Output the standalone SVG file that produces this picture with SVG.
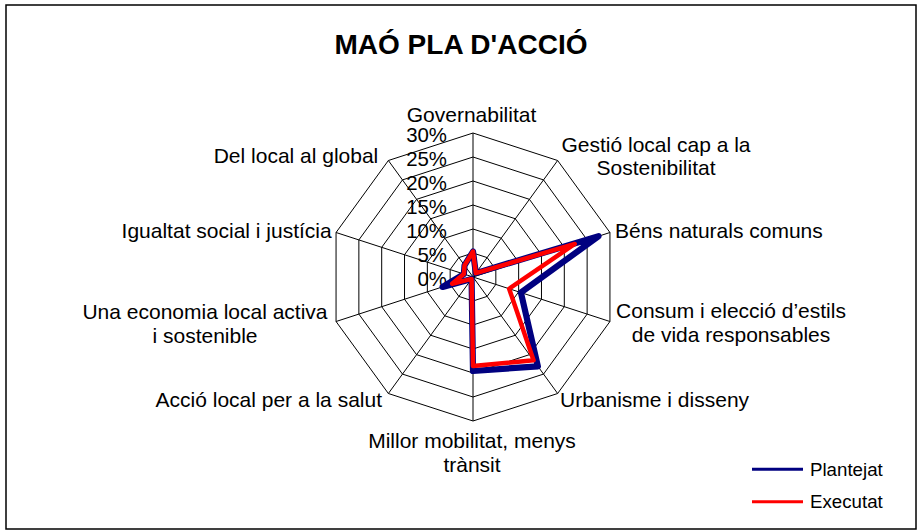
<svg xmlns="http://www.w3.org/2000/svg" width="917" height="531" viewBox="0 0 917 531">
<style>
.lbl{font-family:"Liberation Sans",Arial,sans-serif;font-size:21px;fill:#000}
.pct{font-family:"Liberation Sans",Arial,sans-serif;font-size:20.4px;fill:#000;text-anchor:end}
.leg{font-family:"Liberation Sans",Arial,sans-serif;font-size:18.7px;fill:#000}
.ring{fill:none;stroke:#000;stroke-width:1}
.spoke{stroke:#000;stroke-width:1}
.plan{fill:none;stroke:#000080;stroke-width:6.2;stroke-linejoin:round;stroke-linecap:round}
.exec{fill:none;stroke:#ff0000;stroke-width:4.5;stroke-linejoin:round;stroke-linecap:round}
</style>
<rect x="0" y="0" width="917" height="531" fill="#fff"/>
<rect id="frame" x="6" y="5" width="910" height="524" fill="#fff" stroke="#000" stroke-width="1.5"/>
<text id="title" x="461" y="53.5" text-anchor="middle" style="font-family:'Liberation Sans',Arial,sans-serif;font-size:28px;font-weight:bold">MAÓ PLA D'ACCIÓ</text>
<g id="grid">
<polygon class="ring" points="473,253 487.11,257.58 495.83,269.58 495.83,284.42 487.11,296.42 473,301 458.89,296.42 450.17,284.42 450.17,269.58 458.89,257.58"/>
<polygon class="ring" points="473,229 501.21,238.17 518.65,262.17 518.65,291.83 501.21,315.83 473,325 444.79,315.83 427.35,291.83 427.35,262.17 444.79,238.17"/>
<polygon class="ring" points="473,205 515.32,218.75 541.48,254.75 541.48,299.25 515.32,335.25 473,349 430.68,335.25 404.52,299.25 404.52,254.75 430.68,218.75"/>
<polygon class="ring" points="473,181 529.43,199.33 564.30,247.33 564.30,306.67 529.43,354.67 473,373 416.57,354.67 381.70,306.67 381.70,247.33 416.57,199.33"/>
<polygon class="ring" points="473,157 543.53,179.92 587.13,239.92 587.13,314.08 543.53,374.08 473,397 402.47,374.08 358.87,314.08 358.87,239.92 402.47,179.92"/>
<polygon class="ring" points="473,133 557.64,160.50 609.95,232.50 609.95,321.50 557.64,393.50 473,421 388.36,393.50 336.05,321.50 336.05,232.50 388.36,160.50"/>
<line class="spoke" x1="473" y1="277" x2="473" y2="133"/>
<line class="spoke" x1="473" y1="277" x2="557.64" y2="160.50"/>
<line class="spoke" x1="473" y1="277" x2="609.95" y2="232.50"/>
<line class="spoke" x1="473" y1="277" x2="609.95" y2="321.50"/>
<line class="spoke" x1="473" y1="277" x2="557.64" y2="393.50"/>
<line class="spoke" x1="473" y1="277" x2="473" y2="421"/>
<line class="spoke" x1="473" y1="277" x2="388.36" y2="393.50"/>
<line class="spoke" x1="473" y1="277" x2="336.05" y2="321.50"/>
<line class="spoke" x1="473" y1="277" x2="336.05" y2="232.50"/>
<line class="spoke" x1="473" y1="277" x2="388.36" y2="160.50"/>
</g>
<g id="scale">
<text class="pct" x="447" y="141.7">30%</text>
<text class="pct" x="447" y="165.7">25%</text>
<text class="pct" x="447" y="189.7">20%</text>
<text class="pct" x="447" y="213.7">15%</text>
<text class="pct" x="447" y="237.7">10%</text>
<text class="pct" x="447" y="261.7">5%</text>
<text class="pct" x="447" y="285.7">0%</text>
</g>
<g id="series">
<polygon id="plantejat" class="plan" points="473,251.5 475.82,273.12 598.54,236.21 520.93,292.57 537.89,366.32 473,371 471.59,278.94 442.57,286.89 463.87,274.03 464.54,265.35"/>
<polygon id="executat" class="exec" points="473,251.5 475.82,273.12 574.76,243.94 509.14,288.74 533.54,360.33 473,366 471.59,278.94 452.08,283.8 463.87,274.03 464.54,265.35"/>
</g>
<g id="axis-labels">
<text class="lbl" x="471.5" y="121.5" text-anchor="middle">Governabilitat</text>
<text class="lbl" x="656" y="151.7" text-anchor="middle">Gestió local cap a la</text>
<text class="lbl" x="656" y="175" text-anchor="middle">Sostenibilitat</text>
<text class="lbl" x="615" y="238.3">Béns naturals comuns</text>
<text class="lbl" x="731" y="318.3" text-anchor="middle">Consum i elecció d’estils</text>
<text class="lbl" x="731" y="341.7" text-anchor="middle">de vida responsables</text>
<text class="lbl" x="560" y="406.7">Urbanisme i disseny</text>
<text class="lbl" x="472" y="448.3" text-anchor="middle">Millor mobilitat, menys</text>
<text class="lbl" x="472" y="471.7" text-anchor="middle">trànsit</text>
<text class="lbl" x="382" y="406.7" text-anchor="end">Acció local per a la salut</text>
<text class="lbl" x="205" y="319.3" text-anchor="middle">Una economia local activa</text>
<text class="lbl" x="205" y="342.7" text-anchor="middle">i sostenible</text>
<text class="lbl" x="331.7" y="238.3" text-anchor="end">Igualtat social i justícia</text>
<text class="lbl" x="378.3" y="162.7" text-anchor="end">Del local al global</text>
</g>
<g id="legend">
<line x1="752" y1="469.3" x2="803" y2="469.3" stroke="#000080" stroke-width="3"/>
<text class="leg" x="810" y="476">Plantejat</text>
<line x1="752" y1="501.7" x2="803" y2="501.7" stroke="#ff0000" stroke-width="3"/>
<text class="leg" x="810" y="508.3">Executat</text>
</g>
</svg>
